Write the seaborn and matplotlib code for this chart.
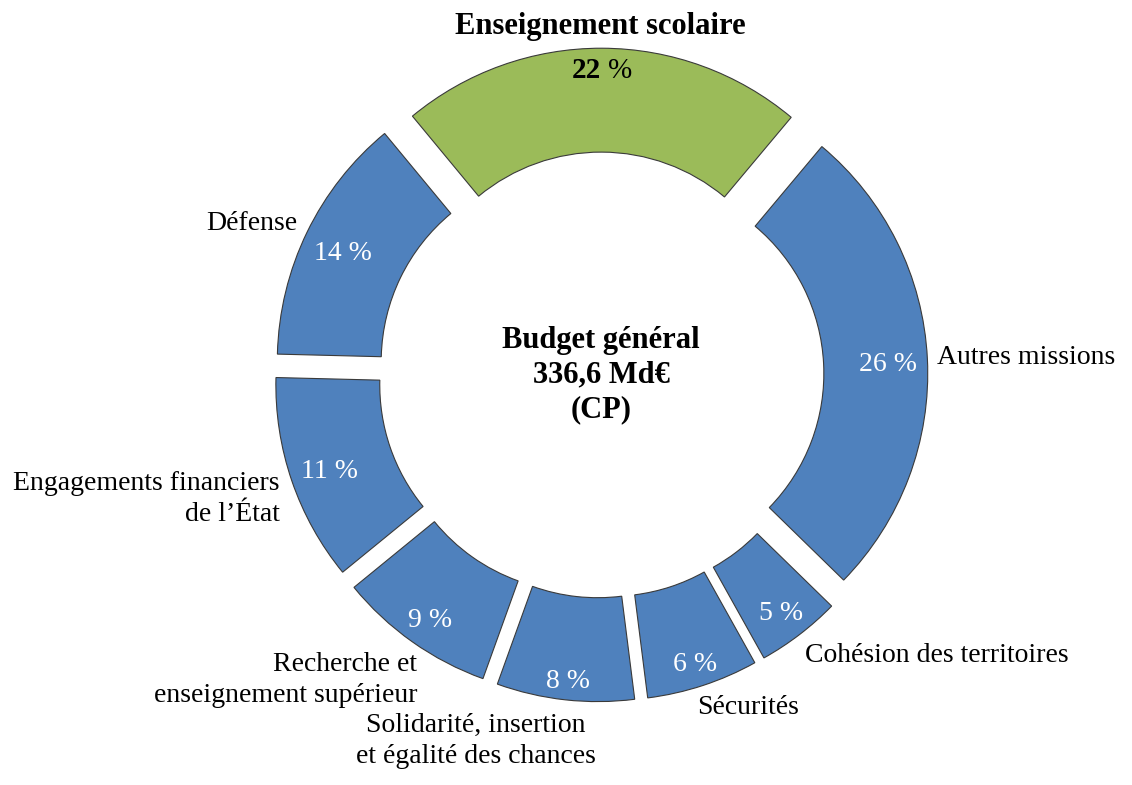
import numpy as np
import matplotlib
matplotlib.use("Agg")
import matplotlib.pyplot as plt
import seaborn as sns

# ---------------- data ----------------
categories = [
    "Enseignement scolaire",
    "Autres missions",
    "Cohésion des territoires",
    "Sécurités",
    "Solidarité, insertion\net égalité des chances",
    "Recherche et\nenseignement supérieur",
    "Engagements financiers\nde l’État",
    "Défense",
]
shares = [22.1, 26.2, 4.6, 6.1, 7.5, 8.6, 11.3, 13.6]   # % of budget général
highlight = "Enseignement scolaire"
center_lines = ["Budget général", "336,6 Md€", "(CP)"]

# ---------------- style / layout ----------------
sns.set_theme(style="white")
plt.rcParams["font.family"] = ["Liberation Serif", "DejaVu Serif"]
plt.rcParams["text.color"] = "black"

W, H = 1132, 785
R_PX = 296.0             # outer radius in pixels
CX, CY = 601.0, 375.0    # donut centre (pixels from top-left)
BLUE, GREEN = "#4F81BD", "#9BBB59"
TXT_SHIFT = 3.5          # px, optical baseline correction

def px2d(px, py):
    return (px - CX) / R_PX, (CY - py) / R_PX

# outside label anchors (pixels) and horizontal alignment
label_layout = {
    "Enseignement scolaire": (600.5, 26.5, "center"),
    "Autres missions": (937, 357, "left"),
    "Cohésion des territoires": (805, 655, "left"),
    "Sécurités": (748.5, 707, "center"),
    "Solidarité, insertion\net égalité des chances": (476, 741, "center"),
    "Recherche et\nenseignement supérieur": (417, 680, "right"),
    "Engagements financiers\nde l’État": (280, 499, "right"),
    "Défense": (297, 223, "right"),
}

fig = plt.figure(figsize=(W / 100, H / 100), dpi=100)
ax = fig.add_axes([0, 0, 1, 1])

colors = [GREEN if c == highlight else BLUE for c in categories]
wedges, _ = ax.pie(
    shares,
    startangle=129.6,
    counterclock=False,
    radius=1.0,
    explode=[0.104] * len(shares),
    colors=colors,
    wedgeprops=dict(width=0.351, edgecolor="#3a3a3a", linewidth=0.8),
)
ax.set_xlim(-CX / R_PX, (W - CX) / R_PX)
ax.set_ylim(-(H - CY) / R_PX, CY / R_PX)
ax.set_aspect("auto")
ax.axis("off")

renderer = fig.canvas.get_renderer()
FS_IN = 20
digit_h = 0.66 * FS_IN * 100 / 72   # px
pad = 10.0
dy = TXT_SHIFT / R_PX

for wdg, cat, val in zip(wedges, categories, shares):
    m = np.deg2rad(0.5 * (wdg.theta1 + wdg.theta2))
    cxw, cyw = wdg.center
    if cat == highlight:
        t1 = ax.text(0, 0, f"{val:.0f}", fontsize=21, fontweight="bold",
                     color="black", ha="right", va="center")
        t2 = ax.text(0, 0, "%", fontsize=21, color="black", ha="left", va="center")
        w1 = t1.get_window_extent(renderer).width
        w2 = t2.get_window_extent(renderer).width
        gap = 0.25 * 21 * 100 / 72
        wtot = w1 + gap + w2
        d = R_PX - pad - (abs(np.cos(m)) * wtot / 2 + abs(np.sin(m)) * digit_h / 2)
        lx = cxw + d / R_PX * np.cos(m)
        ly = cyw + d / R_PX * np.sin(m) - dy
        left = lx - wtot / 2 / R_PX
        t1.set_position((left + w1 / R_PX, ly))
        t2.set_position((left + (w1 + gap) / R_PX, ly))
    else:
        t = ax.text(0, 0, f"{val:.0f} %", fontsize=FS_IN, color="white",
                    ha="center", va="center")
        w = t.get_window_extent(renderer).width
        d = R_PX - pad - (abs(np.cos(m)) * w / 2 + abs(np.sin(m)) * digit_h / 2)
        t.set_position((cxw + d / R_PX * np.cos(m),
                        cyw + d / R_PX * np.sin(m) - dy))

# outside category labels
for cat in categories:
    px, py, ha = label_layout[cat]
    x, y = px2d(px, py)
    if cat == highlight:
        ax.text(x, y, cat, fontsize=22, fontweight="bold", ha=ha, va="center",
                color="black")
    else:
        ax.text(x, y, cat, fontsize=20, ha=ha, va="center", color="black",
                multialignment=ha, linespacing=1.29)

# centre text
cx0, cy0 = px2d(601, 375)
ax.text(cx0, cy0, "\n".join(center_lines), fontsize=22, fontweight="bold",
        ha="center", va="center", multialignment="center", linespacing=1.24,
        color="black")

fig.savefig("out.png", dpi=100, facecolor="white")
